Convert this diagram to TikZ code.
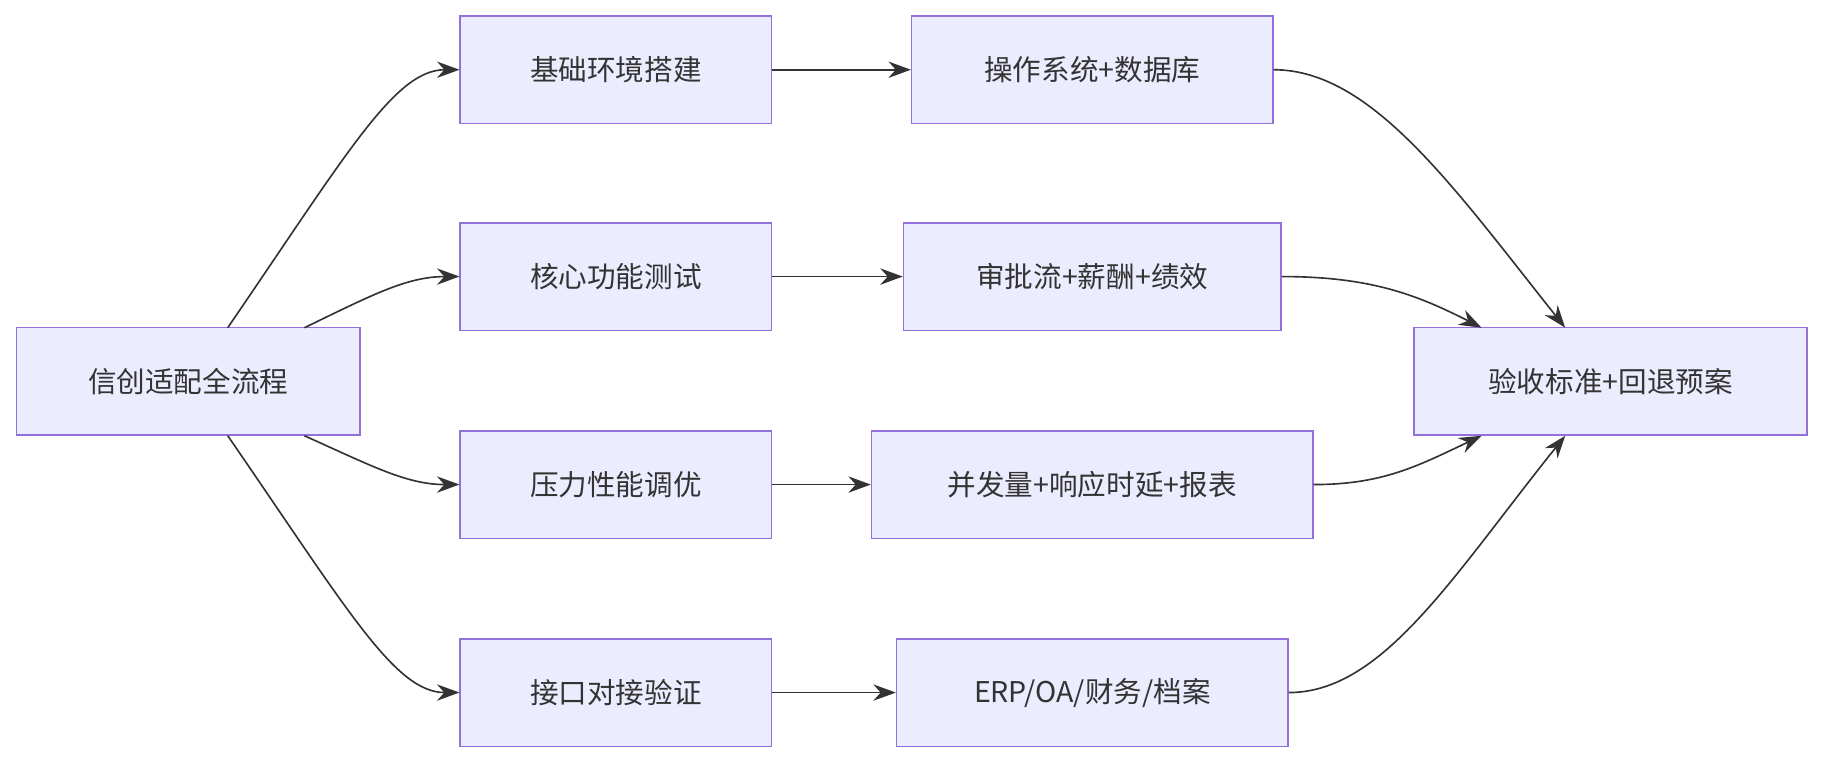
\documentclass[tikz,border=0pt]{standalone}
\usepackage{fontspec}
\setmainfont{Noto Sans CJK SC}
\usetikzlibrary{positioning, arrows.meta, calc}
\definecolor{boxfill}{HTML}{ECECFF}
\definecolor{boxline}{HTML}{9370DB}
\definecolor{ink}{HTML}{333333}

\begin{document}
\begin{tikzpicture}[x=0.02cm, y=-0.02cm, >={Stealth[length=11pt,width=8pt]}, font=\fontsize{14}{16}\selectfont, text=ink]
    \tikzstyle{stage}=[rectangle, draw=boxline, fill=boxfill, line width=0.7pt, minimum height=1.85cm, inner sep=0pt]
    \tikzstyle{flow}=[->, draw=ink, line width=0.8pt]
    \useasboundingbox (0,0) rectangle (1568,657);

    % Start and end
    \node[stage, minimum width=5.92cm] (start) at (162,328) {信创适配全流程};
    \node[stage, minimum width=6.76cm] (done)  at (1386,328) {验收标准+回退预案};

    % Phases
    \node[stage, minimum width=5.36cm] (env)  at (530,60)  {基础环境搭建};
    \node[stage, minimum width=5.36cm] (core) at (530,238) {核心功能测试};
    \node[stage, minimum width=5.36cm] (perf) at (530,417) {压力性能调优};
    \node[stage, minimum width=5.36cm] (api)  at (530,596) {接口对接验证};

    % Details
    \node[stage, minimum width=6.22cm] (os)   at (940,60)  {操作系统+数据库};
    \node[stage, minimum width=6.50cm] (flowd) at (940,238) {审批流+薪酬+绩效};
    \node[stage, minimum width=7.60cm] (load) at (940,417) {并发量+响应时延+报表};
    \node[stage, minimum width=6.74cm] (sys)  at (940,596) {ERP/OA/财务/档案};

    % Fan-out points
    \coordinate (s1) at (196,282);
    \coordinate (s2) at (262,282);
    \coordinate (s3) at (262,375);
    \coordinate (s4) at (196,375);
    \coordinate (e1) at (1347,282);
    \coordinate (e2) at (1275,282);
    \coordinate (e3) at (1275,375);
    \coordinate (e4) at (1347,375);

    \draw[flow] (s1) .. controls (300,130) and (340,60) .. (env.west);
    \draw[flow] (s2) .. controls (320,254) and (350,238) .. (core.west);
    \draw[flow] (s3) .. controls (320,401) and (350,417) .. (perf.west);
    \draw[flow] (s4) .. controls (300,526) and (340,596) .. (api.west);

    \draw[flow] (env)  -- (os);
    \draw[flow] (core) -- (flowd);
    \draw[flow] (perf) -- (load);
    \draw[flow] (api)  -- (sys);

    \draw[flow] (os.east) .. controls (1180,60) and (1250,160) .. (e1);
    \draw[flow] (flowd.east) .. controls (1180,238) and (1220,254) .. (e2);
    \draw[flow] (load.east) .. controls (1190,417) and (1220,401) .. (e3);
    \draw[flow] (sys.east) .. controls (1190,596) and (1250,496) .. (e4);
\end{tikzpicture}
\end{document}
